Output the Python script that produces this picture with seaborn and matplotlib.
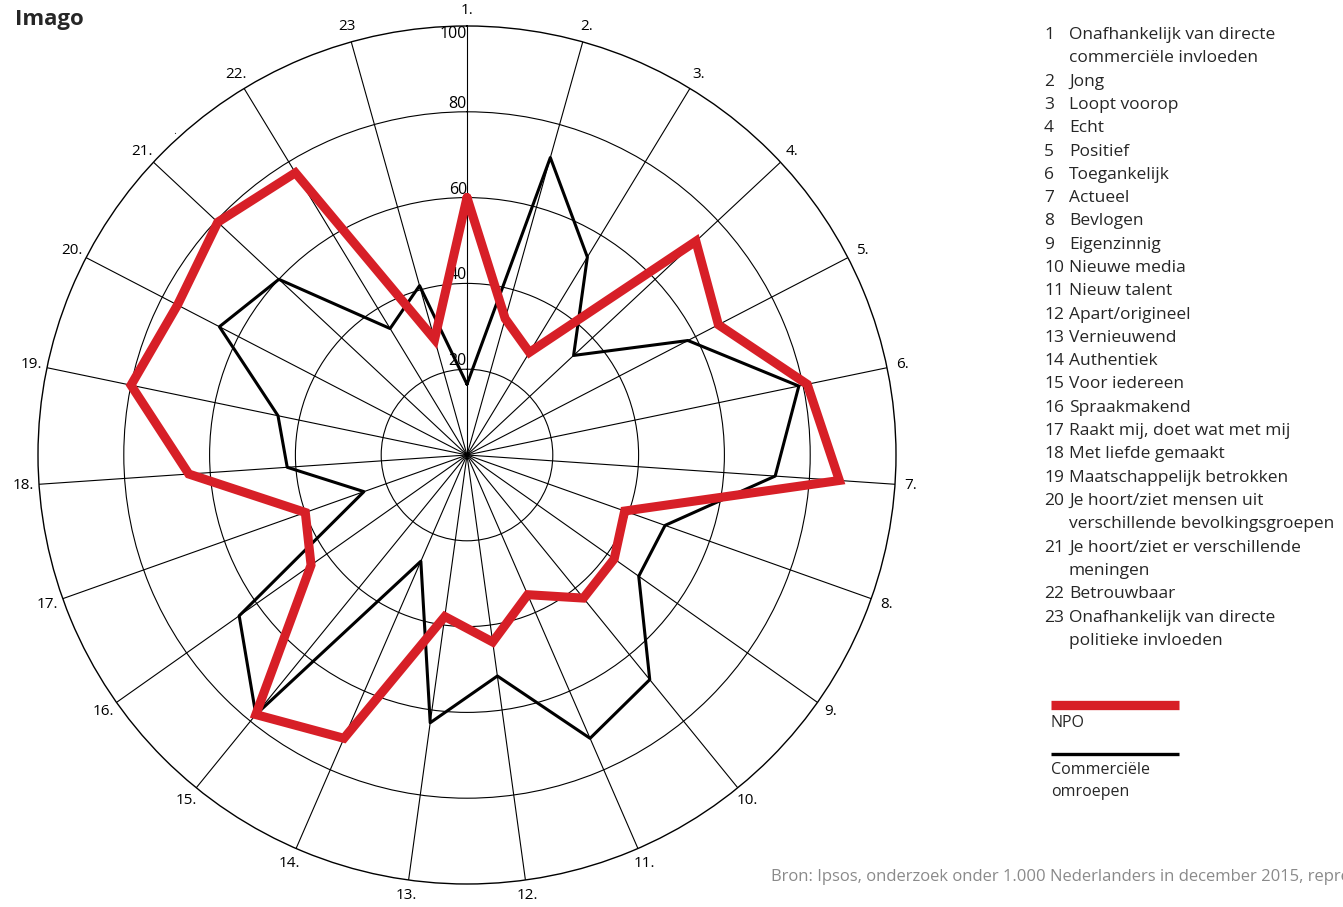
import numpy as np
import pandas as pd
import matplotlib
matplotlib.use("Agg")
import matplotlib.pyplot as plt
import seaborn as sns

# Data
axis_labels = ["1.", "2.", "3.", "4.", "5.", "6.", "7.", "8.", "9.", "10.", "11.", "12.",
               "13.", "14.", "15.", "16.", "17.", "18.", "19.", "20.", "21.", "22.", "23"]
npo = [60, 33, 28, 73, 66, 81, 87, 39, 42, 43, 35.5, 44, 38, 72, 78, 44.5, 40, 65, 80, 76, 79.5, 77, 28]
commercieel = [16.5, 72, 54, 34, 58, 79, 72, 49, 49, 67.5, 72, 52, 63, 27, 78, 65, 25.5, 42, 45, 65, 60, 34.5, 41]
ring_values = [20, 40, 60, 80, 100]

item_numbers = ["1", "2", "3", "4", "5", "6", "7", "8", "9", "10", "11", "12", "13",
                "14", "15", "16", "17", "18", "19", "20", "21", "22", "23"]
item_texts = [
    "Onafhankelijk van directe\ncommerciële invloeden",
    "Jong",
    "Loopt voorop",
    "Echt",
    "Positief",
    "Toegankelijk",
    "Actueel",
    "Bevlogen",
    "Eigenzinnig",
    "Nieuwe media",
    "Nieuw talent",
    "Apart/origineel",
    "Vernieuwend",
    "Authentiek",
    "Voor iedereen",
    "Spraakmakend",
    "Raakt mij, doet wat met mij",
    "Met liefde gemaakt",
    "Maatschappelijk betrokken",
    "Je hoort/ziet mensen uit\nverschillende bevolkingsgroepen",
    "Je hoort/ziet er verschillende\nmeningen",
    "Betrouwbaar",
    "Onafhankelijk van directe\npolitieke invloeden",
]

RED = "#d71f27"
W, H = 1343, 907

sns.set_style("white")
plt.rcParams["font.family"] = ["Open Sans", "DejaVu Sans"]


def fx(x):
    return x / W


def fy(y):
    return 1 - y / H


angles = np.linspace(0, 2 * np.pi, len(axis_labels), endpoint=False)
theta = np.append(angles, 2 * np.pi)
df = pd.DataFrame({
    "theta": np.concatenate([theta, theta]),
    "value": npo + [npo[0]] + commercieel + [commercieel[0]],
    "omroep": ["NPO"] * len(theta) + ["Commercieel"] * len(theta),
})

fig = plt.figure(figsize=(W / 100, H / 100), dpi=100)
# square polar box: centre (467, 455), radius 429 px
ax = fig.add_axes([38 / W, 23 / H, 858 / W, 858 / H], projection="polar")
ax.set_theta_zero_location("N")
ax.set_theta_direction(-1)

sns.lineplot(data=df[df["omroep"] == "Commercieel"], x="theta", y="value", ax=ax,
             color="black", linewidth=2.2, sort=False, estimator=None, zorder=3)
sns.lineplot(data=df[df["omroep"] == "NPO"], x="theta", y="value", ax=ax,
             color=RED, linewidth=6.5, sort=False, estimator=None, zorder=4,
             solid_joinstyle="miter")

ax.set_ylim(0, 100)
ax.set_yticks(ring_values[:-1])
ax.set_yticklabels([])
ax.set_xticks(angles)
ax.set_xticklabels(axis_labels, fontsize=11)
ax.tick_params(axis="x", pad=1, colors="black")
ax.grid(True, color="black", linewidth=0.8)
ax.set_axisbelow(True)
ax.spines["polar"].set_color("black")
ax.spines["polar"].set_linewidth(1.0)
ax.set_xlabel("")
ax.set_ylabel("")

for r in ring_values:
    ax.text(0, r, str(r), ha="right", va="top" if r == 100 else "bottom",
            fontsize=11.5, color="black", zorder=2)
ax.text(np.deg2rad(317.9), 101.5, ".", ha="center", va="center", fontsize=8)

fig.text(fx(15), fy(20), "Imago", fontsize=16, fontweight="bold", va="center")

# Attribute list on the right
line_h = 23.3
row = 0
for num, txt in zip(item_numbers, item_texts):
    y = 35 + row * line_h
    fig.text(fx(1044), fy(y), num, fontsize=12.5, va="center")
    for i, part in enumerate(txt.split("\n")):
        fig.text(fx(1069), fy(y + i * line_h), part, fontsize=12.5, va="center")
    row += len(txt.split("\n"))

# Legend
fig.add_artist(plt.Line2D([fx(1051), fx(1179)], [fy(705), fy(705)], color=RED,
                          linewidth=6.7, transform=fig.transFigure, solid_capstyle="butt"))
fig.text(fx(1051), fy(723), "NPO", fontsize=11.5, va="center")
fig.add_artist(plt.Line2D([fx(1051), fx(1179)], [fy(754), fy(754)], color="black",
                          linewidth=2.4, transform=fig.transFigure, solid_capstyle="butt"))
fig.text(fx(1051), fy(770), "Commerciële", fontsize=11.5, va="center")
fig.text(fx(1051), fy(792), "omroepen", fontsize=11.5, va="center")

fig.text(fx(771), fy(877),
         "Bron: Ipsos, onderzoek onder 1.000 Nederlanders in december 2015, representatief voor Nederland",
         fontsize=12, color="#8a8a8a", va="center")

fig.savefig("out.png", dpi=100)
